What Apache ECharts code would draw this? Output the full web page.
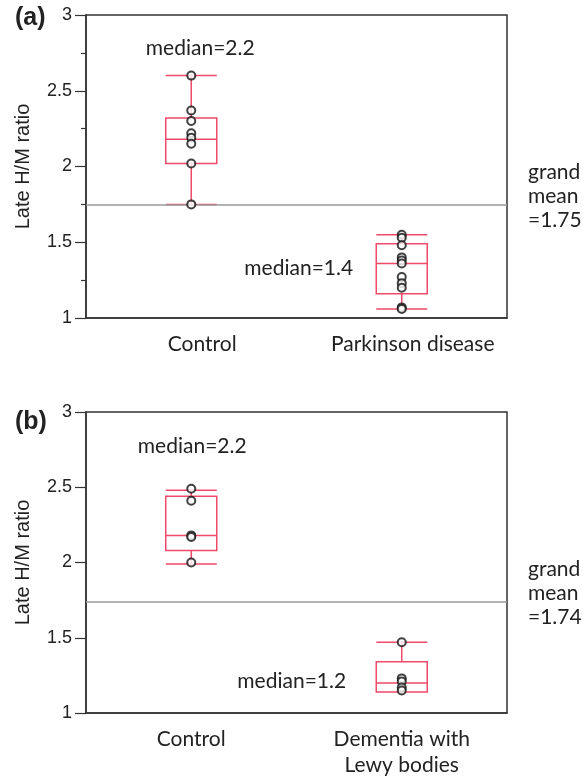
<!DOCTYPE html>
<html>
<head>
<meta charset="utf-8">
<script src="https://cdn.jsdelivr.net/npm/echarts@6/dist/echarts.min.js"></script>
<style>
  html, body { margin: 0; padding: 0; background: #fff; }
  #main { width: 583px; height: 779px; }
</style>
</head>
<body>
<div id="main"></div>
<script>
// categories
const categoriesA = ['Control', 'Parkinson disease'];
const categoriesB = ['Control', 'Dementia with\nLewy bodies'];

// box stats [min, Q1, median, Q3, max]
const boxA = [[1.75, 2.02, 2.18, 2.32, 2.60], [1.06, 1.16, 1.36, 1.49, 1.55]];
const boxB = [[1.99, 2.08, 2.18, 2.44, 2.48], [1.14, 1.14, 1.20, 1.34, 1.47]];

// individual patients
const pointsAControl = [2.60, 2.37, 2.30, 2.22, 2.19, 2.15, 2.02, 1.75];
const pointsAPd = [1.55, 1.53, 1.48, 1.40, 1.38, 1.36, 1.27, 1.23, 1.20, 1.07, 1.06];
const pointsBControl = [2.49, 2.41, 2.18, 2.17, 2.00];
const pointsBDlb = [1.47, 1.23, 1.21, 1.17, 1.15];

const grandMeans = [1.75, 1.74];
const medianTextA = ['median=2.2', 'median=1.4'];
const medianTextB = ['median=2.2', 'median=1.2'];

const RED = '#ef4a6a';
const INK = '#222';
const GILL = 'Lato, "Open Sans", sans-serif';
const HELV = '"Liberation Sans", Arial, sans-serif';

function toPts(catIdx, arr) {
  return arr.map(v => [catIdx, v]);
}

function yAxis(gridIndex, minor) {
  return {
    type: 'value', gridIndex: gridIndex,
    min: 1, max: 3, interval: 0.5,
    name: 'Late H/M ratio', nameLocation: 'middle', nameGap: 53, nameRotate: 90,
    nameTextStyle: { fontSize: 20, color: INK, fontFamily: HELV },
    axisLine: { show: true, lineStyle: { color: '#333', width: 1.5 } },
    axisTick: { show: true, length: 11, lineStyle: { color: '#333', width: 1.2 } },
    minorTick: { show: minor, splitNumber: 2, length: 5, lineStyle: { color: '#333', width: 1.2 } },
    axisLabel: { fontSize: 18, color: INK, margin: 14, fontFamily: HELV,
      formatter: v => String(v) },
    splitLine: { show: false }
  };
}

function xAxis(gridIndex, cats, pad) {
  return {
    type: 'category', gridIndex: gridIndex, data: cats,
    axisLine: { show: true, lineStyle: { color: '#333', width: 1.5 } },
    axisTick: { show: false },
    axisLabel: { fontSize: 21, color: INK, margin: 13, lineHeight: 26, fontFamily: GILL,
      padding: [0, 0, 0, pad], interval: 0 }
  };
}

function boxSeries(idx, data) {
  return {
    type: 'boxplot', xAxisIndex: idx, yAxisIndex: idx,
    data: data, boxWidth: [51, 51], silent: true,
    itemStyle: { color: 'rgba(0,0,0,0)', borderColor: RED, borderWidth: 1.5 },
    emphasis: { disabled: true }
  };
}

function dotSeries(idx, data, extra) {
  return Object.assign({
    type: 'scatter', xAxisIndex: idx, yAxisIndex: idx,
    data: data, symbol: 'emptyCircle', symbolSize: 8, silent: true,
    itemStyle: { color: '#111', borderWidth: 1.2 },
    z: 5
  }, extra || {});
}

function meanLine(mean) {
  return {
    silent: true, symbol: 'none',
    lineStyle: { color: '#9a9a9a', width: 1.5, type: 'solid' },
    label: {
      show: true, position: 'end', distance: 21, offset: [0, -8],
      formatter: 'grand\nmean\n=' + mean.toFixed(2),
      fontSize: 21, lineHeight: 24, color: INK, fontFamily: GILL, align: 'left'
    },
    data: [{ yAxis: mean }]
  };
}

function medianMarks(cats, texts, spots) {
  return {
    silent: true, symbol: 'circle', symbolSize: 0,
    label: { show: true, position: 'inside', fontSize: 21, color: INK, fontFamily: GILL },
    data: spots.map((s, i) => ({
      coord: [cats[i], s.y], value: texts[i],
      label: { formatter: texts[i], offset: [s.dx, 0] }
    }))
  };
}

const chart = echarts.init(document.getElementById('main'));
chart.setOption({
  animation: false,
  backgroundColor: '#fff',
  title: [
    { text: '(a)', left: 10, top: 1, textStyle: { fontSize: 25, fontWeight: 'bold', color: INK, fontFamily: HELV } },
    { text: '(b)', left: 10, top: 405, textStyle: { fontSize: 25, fontWeight: 'bold', color: INK, fontFamily: HELV } }
  ],
  grid: [
    { left: 86, top: 15, width: 421, height: 303, show: true, borderColor: '#333', borderWidth: 1.5, containLabel: false },
    { left: 86, top: 412, width: 421, height: 301, show: true, borderColor: '#333', borderWidth: 1.5, containLabel: false }
  ],
  xAxis: [xAxis(0, categoriesA, 22), xAxis(1, categoriesB, 0)],
  yAxis: [yAxis(0, true), yAxis(1, false)],
  series: [
    boxSeries(0, boxA),
    dotSeries(0, toPts(0, pointsAControl), {
      markLine: meanLine(grandMeans[0]),
      markPoint: medianMarks(categoriesA, medianTextA, [{ y: 2.78, dx: 9 }, { y: 1.33, dx: -103 }])
    }),
    dotSeries(0, toPts(1, pointsAPd)),
    boxSeries(1, boxB),
    dotSeries(1, toPts(0, pointsBControl), {
      markLine: meanLine(grandMeans[1]),
      markPoint: medianMarks(categoriesB, medianTextB, [{ y: 2.77, dx: 1 }, { y: 1.21, dx: -110 }])
    }),
    dotSeries(1, toPts(1, pointsBDlb))
  ]
});
window.addEventListener('resize', function () { chart.resize(); });
</script>
</body>
</html>
